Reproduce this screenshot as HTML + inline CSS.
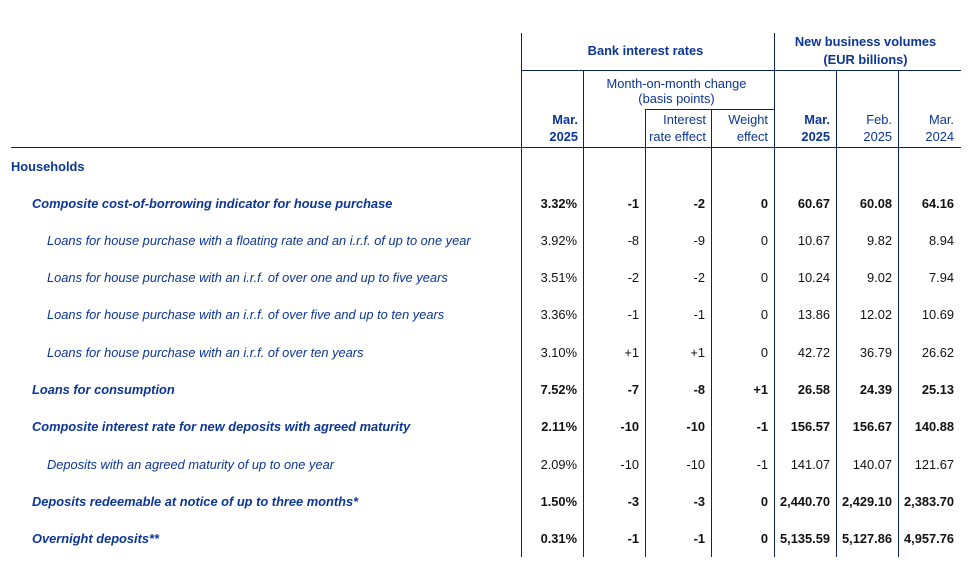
<!DOCTYPE html>
<html><head><meta charset="utf-8">
<style>
html,body{margin:0;padding:0;background:#fff;}
body{width:972px;height:573px;position:relative;overflow:hidden;font-family:"Liberation Sans",Arial,sans-serif;font-size:12.85px;}
.t{position:absolute;line-height:15px;white-space:nowrap;}
.b{font-weight:bold;}
.i{font-style:italic;}
.blue{color:#0b3596;}
.k{color:#111;}
.r{text-align:right;}
.c{text-align:center;}
.v{position:absolute;width:1px;background:#0d2266;}
.h{position:absolute;height:1px;background:#0d2266;}
</style></head><body>

<!-- lines -->
<div class="v" style="left:521px;top:33px;height:524px"></div>
<div class="v" style="left:583px;top:70px;height:487px"></div>
<div class="v" style="left:645px;top:109px;height:448px"></div>
<div class="v" style="left:711px;top:109px;height:448px"></div>
<div class="v" style="left:774px;top:33px;height:524px"></div>
<div class="v" style="left:836px;top:70px;height:487px"></div>
<div class="v" style="left:898px;top:70px;height:487px"></div>
<div class="h" style="left:521px;top:70px;width:440px"></div>
<div class="h" style="left:645px;top:109px;width:130px"></div>
<div class="h" style="left:11px;top:147px;width:950px"></div>

<!-- headers -->
<div class="t b blue c" style="left:521px;width:249px;top:43px">Bank interest rates</div>
<div class="t b blue c" style="left:774px;width:183px;top:34px">New business volumes</div>
<div class="t b blue c" style="left:774px;width:183px;top:52px">(EUR billions)</div>
<div class="t blue c" style="left:583px;width:187px;top:76px">Month-on-month change</div>
<div class="t blue c" style="left:583px;width:187px;top:91px">(basis points)</div>

<div class="t b blue r" style="left:521px;width:57px;top:112px">Mar.</div>
<div class="t b blue r" style="left:521px;width:57px;top:129px">2025</div>
<div class="t blue r" style="left:645px;width:61px;top:112px">Interest</div>
<div class="t blue r" style="left:645px;width:61px;top:129px">rate effect</div>
<div class="t blue r" style="left:711px;width:57px;top:112px">Weight</div>
<div class="t blue r" style="left:711px;width:57px;top:129px">effect</div>
<div class="t b blue r" style="left:774px;width:56px;top:112px">Mar.</div>
<div class="t b blue r" style="left:774px;width:56px;top:129px">2025</div>
<div class="t blue r" style="left:836px;width:56px;top:112px">Feb.</div>
<div class="t blue r" style="left:836px;width:56px;top:129px">2025</div>
<div class="t blue r" style="left:898px;width:56px;top:112px">Mar.</div>
<div class="t blue r" style="left:898px;width:56px;top:129px">2024</div>

<div class="t b blue" style="left:11px;top:159px">Households</div>

<!-- row labels -->
<div class="t b i blue" style="left:32px;top:196px">Composite cost-of-borrowing indicator for house purchase</div>
<div class="t i blue" style="left:47px;top:233px">Loans for house purchase with a floating rate and an i.r.f. of up to one year</div>
<div class="t i blue" style="left:47px;top:270px">Loans for house purchase with an i.r.f. of over one and up to five years</div>
<div class="t i blue" style="left:47px;top:307px">Loans for house purchase with an i.r.f. of over five and up to ten years</div>
<div class="t i blue" style="left:47px;top:345px">Loans for house purchase with an i.r.f. of over ten years</div>
<div class="t b i blue" style="left:32px;top:382px">Loans for consumption</div>
<div class="t b i blue" style="left:32px;top:419px">Composite interest rate for new deposits with agreed maturity</div>
<div class="t i blue" style="left:47px;top:457px">Deposits with an agreed maturity of up to one year</div>
<div class="t b i blue" style="left:32px;top:494px">Deposits redeemable at notice of up to three months*</div>
<div class="t b i blue" style="left:32px;top:531px">Overnight deposits**</div>

<!-- row1 -->
<div class="t b k r" style="left:521px;width:56px;top:196px">3.32%</div>
<div class="t b k r" style="left:583px;width:56px;top:196px">-1</div>
<div class="t b k r" style="left:645px;width:60px;top:196px">-2</div>
<div class="t b k r" style="left:711px;width:57px;top:196px">0</div>
<div class="t b k r" style="left:774px;width:56px;top:196px">60.67</div>
<div class="t b k r" style="left:836px;width:56px;top:196px">60.08</div>
<div class="t b k r" style="left:898px;width:56px;top:196px">64.16</div>
<!-- row2 -->
<div class="t k r" style="left:521px;width:56px;top:233px">3.92%</div>
<div class="t k r" style="left:583px;width:56px;top:233px">-8</div>
<div class="t k r" style="left:645px;width:60px;top:233px">-9</div>
<div class="t k r" style="left:711px;width:57px;top:233px">0</div>
<div class="t k r" style="left:774px;width:56px;top:233px">10.67</div>
<div class="t k r" style="left:836px;width:56px;top:233px">9.82</div>
<div class="t k r" style="left:898px;width:56px;top:233px">8.94</div>
<!-- row3 -->
<div class="t k r" style="left:521px;width:56px;top:270px">3.51%</div>
<div class="t k r" style="left:583px;width:56px;top:270px">-2</div>
<div class="t k r" style="left:645px;width:60px;top:270px">-2</div>
<div class="t k r" style="left:711px;width:57px;top:270px">0</div>
<div class="t k r" style="left:774px;width:56px;top:270px">10.24</div>
<div class="t k r" style="left:836px;width:56px;top:270px">9.02</div>
<div class="t k r" style="left:898px;width:56px;top:270px">7.94</div>
<!-- row4 -->
<div class="t k r" style="left:521px;width:56px;top:307px">3.36%</div>
<div class="t k r" style="left:583px;width:56px;top:307px">-1</div>
<div class="t k r" style="left:645px;width:60px;top:307px">-1</div>
<div class="t k r" style="left:711px;width:57px;top:307px">0</div>
<div class="t k r" style="left:774px;width:56px;top:307px">13.86</div>
<div class="t k r" style="left:836px;width:56px;top:307px">12.02</div>
<div class="t k r" style="left:898px;width:56px;top:307px">10.69</div>
<!-- row5 -->
<div class="t k r" style="left:521px;width:56px;top:345px">3.10%</div>
<div class="t k r" style="left:583px;width:56px;top:345px">+1</div>
<div class="t k r" style="left:645px;width:60px;top:345px">+1</div>
<div class="t k r" style="left:711px;width:57px;top:345px">0</div>
<div class="t k r" style="left:774px;width:56px;top:345px">42.72</div>
<div class="t k r" style="left:836px;width:56px;top:345px">36.79</div>
<div class="t k r" style="left:898px;width:56px;top:345px">26.62</div>
<!-- row6 -->
<div class="t b k r" style="left:521px;width:56px;top:382px">7.52%</div>
<div class="t b k r" style="left:583px;width:56px;top:382px">-7</div>
<div class="t b k r" style="left:645px;width:60px;top:382px">-8</div>
<div class="t b k r" style="left:711px;width:57px;top:382px">+1</div>
<div class="t b k r" style="left:774px;width:56px;top:382px">26.58</div>
<div class="t b k r" style="left:836px;width:56px;top:382px">24.39</div>
<div class="t b k r" style="left:898px;width:56px;top:382px">25.13</div>
<!-- row7 -->
<div class="t b k r" style="left:521px;width:56px;top:419px">2.11%</div>
<div class="t b k r" style="left:583px;width:56px;top:419px">-10</div>
<div class="t b k r" style="left:645px;width:60px;top:419px">-10</div>
<div class="t b k r" style="left:711px;width:57px;top:419px">-1</div>
<div class="t b k r" style="left:774px;width:56px;top:419px">156.57</div>
<div class="t b k r" style="left:836px;width:56px;top:419px">156.67</div>
<div class="t b k r" style="left:898px;width:56px;top:419px">140.88</div>
<!-- row8 -->
<div class="t k r" style="left:521px;width:56px;top:457px">2.09%</div>
<div class="t k r" style="left:583px;width:56px;top:457px">-10</div>
<div class="t k r" style="left:645px;width:60px;top:457px">-10</div>
<div class="t k r" style="left:711px;width:57px;top:457px">-1</div>
<div class="t k r" style="left:774px;width:56px;top:457px">141.07</div>
<div class="t k r" style="left:836px;width:56px;top:457px">140.07</div>
<div class="t k r" style="left:898px;width:56px;top:457px">121.67</div>
<!-- row9 -->
<div class="t b k r" style="left:521px;width:56px;top:494px">1.50%</div>
<div class="t b k r" style="left:583px;width:56px;top:494px">-3</div>
<div class="t b k r" style="left:645px;width:60px;top:494px">-3</div>
<div class="t b k r" style="left:711px;width:57px;top:494px">0</div>
<div class="t b k r" style="left:774px;width:56px;top:494px">2,440.70</div>
<div class="t b k r" style="left:836px;width:56px;top:494px">2,429.10</div>
<div class="t b k r" style="left:898px;width:56px;top:494px">2,383.70</div>
<!-- row10 -->
<div class="t b k r" style="left:521px;width:56px;top:531px">0.31%</div>
<div class="t b k r" style="left:583px;width:56px;top:531px">-1</div>
<div class="t b k r" style="left:645px;width:60px;top:531px">-1</div>
<div class="t b k r" style="left:711px;width:57px;top:531px">0</div>
<div class="t b k r" style="left:774px;width:56px;top:531px">5,135.59</div>
<div class="t b k r" style="left:836px;width:56px;top:531px">5,127.86</div>
<div class="t b k r" style="left:898px;width:56px;top:531px">4,957.76</div>

</body></html>
